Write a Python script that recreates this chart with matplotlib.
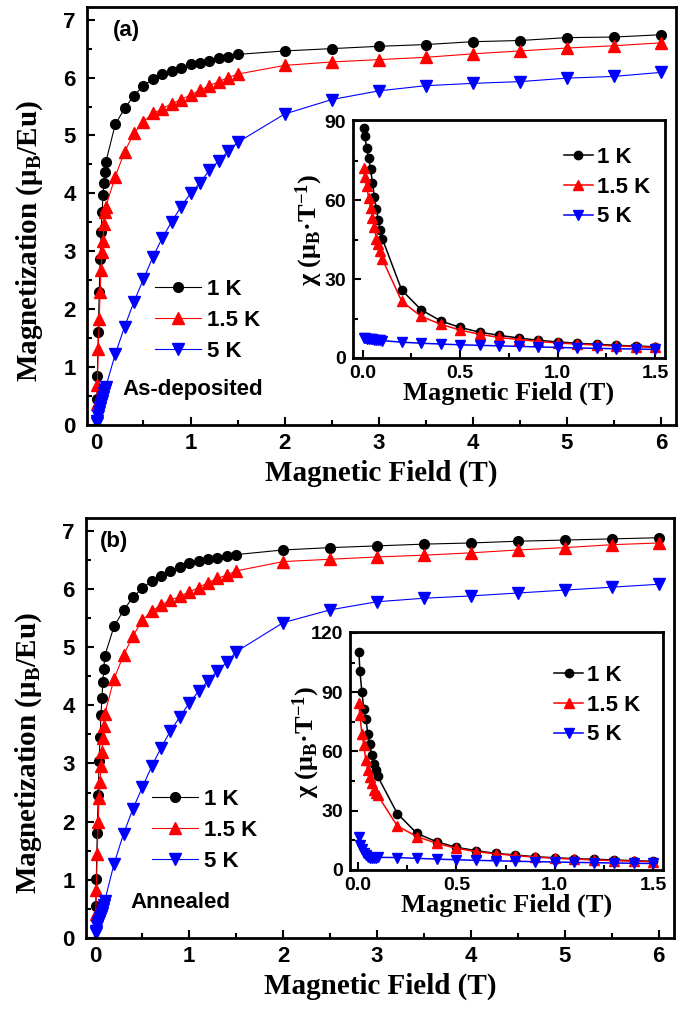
import matplotlib
matplotlib.use('Agg')
import matplotlib.pyplot as plt
from matplotlib.ticker import MultipleLocator
from matplotlib import font_manager

# field points (T)
field = [0.005, 0.01, 0.02, 0.03, 0.04, 0.05, 0.06, 0.07, 0.08, 0.09, 0.1,
         0.2, 0.3, 0.4, 0.5, 0.6, 0.7, 0.8, 0.9, 1.0, 1.1, 1.2, 1.3, 1.4, 1.5,
         2.0, 2.5, 3.0, 3.5, 4.0, 4.5, 5.0, 5.5, 6.0]
labels = ['1 K', '1.5 K', '5 K']

# (a) as-deposited, magnetization (muB/Eu)
Ma_1K = [0.44, 0.84, 1.60, 2.29, 2.87, 3.34, 3.67, 3.97, 4.18, 4.37, 4.54,
         5.19, 5.47, 5.69, 5.86, 5.97, 6.06, 6.11, 6.17, 6.23, 6.26, 6.29, 6.33, 6.36, 6.40,
         6.46, 6.50, 6.54, 6.57, 6.62, 6.64, 6.69, 6.70, 6.74]
Ma_15K = [0.36, 0.69, 1.31, 1.83, 2.29, 2.67, 2.98, 3.17, 3.47, 3.67, 3.77,
          4.29, 4.72, 5.04, 5.24, 5.38, 5.46, 5.55, 5.62, 5.70, 5.78, 5.86, 5.93, 6.00, 6.06,
          6.21, 6.27, 6.31, 6.35, 6.41, 6.46, 6.51, 6.55, 6.60]
Ma_5K = [0.038, 0.075, 0.15, 0.22, 0.29, 0.36, 0.42, 0.48, 0.55, 0.61, 0.66,
         1.22, 1.70, 2.13, 2.52, 2.90, 3.23, 3.51, 3.77, 4.00, 4.18, 4.40, 4.56, 4.73, 4.88,
         5.37, 5.62, 5.77, 5.86, 5.90, 5.93, 5.99, 6.02, 6.09]

# (a) inset, susceptibility up to 1.5 T
chia_1K = [87.5, 84.4, 80.0, 76.2, 71.8, 66.7, 61.1, 56.7, 52.3, 48.5, 45.4,
           25.8, 18.3, 14.1, 11.6, 9.8, 8.6, 7.6, 6.7, 6.1, 5.6, 5.2, 4.8, 4.5, 4.3]
chia_15K = [72.4, 68.8, 65.4, 61.0, 57.2, 53.4, 49.7, 45.3, 43.4, 40.8, 37.7,
            21.5, 15.8, 12.8, 10.6, 9.0, 7.8, 7.0, 6.3, 5.7, 5.3, 4.9, 4.6, 4.3, 4.0]
chia_5K = [7.6, 7.5, 7.4, 7.3, 7.2, 7.1, 7.0, 6.9, 6.8, 6.7, 6.6,
           6.0, 5.6, 5.3, 5.0, 4.8, 4.6, 4.4, 4.2, 4.0, 3.8, 3.65, 3.5, 3.4, 3.25]

# (b) annealed
Mb_1K = [0.55, 1.01, 1.80, 2.46, 3.05, 3.45, 3.84, 4.12, 4.40, 4.62, 4.85,
         5.36, 5.63, 5.86, 6.01, 6.14, 6.23, 6.31, 6.37, 6.44, 6.48, 6.51, 6.54, 6.57, 6.59,
         6.67, 6.71, 6.74, 6.77, 6.79, 6.82, 6.84, 6.86, 6.88]
Mb_15K = [0.42, 0.82, 1.45, 2.00, 2.40, 2.68, 2.95, 3.20, 3.43, 3.65, 3.85,
          4.46, 4.86, 5.19, 5.46, 5.62, 5.72, 5.81, 5.87, 5.95, 6.02, 6.11, 6.18, 6.24, 6.31,
          6.47, 6.51, 6.55, 6.58, 6.62, 6.67, 6.71, 6.76, 6.79]
Mb_5K = [0.085, 0.126, 0.21, 0.26, 0.30, 0.34, 0.38, 0.43, 0.50, 0.57, 0.64,
         1.28, 1.79, 2.22, 2.59, 2.95, 3.27, 3.56, 3.80, 4.04, 4.24, 4.42, 4.59, 4.74, 4.92,
         5.42, 5.64, 5.78, 5.84, 5.88, 5.93, 5.98, 6.03, 6.08]

chib_1K = [110.4, 101.0, 90.2, 81.7, 76.7, 69.1, 64.0, 58.1, 53.9, 50.5, 47.5,
           28.6, 18.5, 14.3, 11.5, 9.8, 8.4, 7.6, 6.7, 6.2, 5.7, 5.4, 5.1, 4.7, 4.4]
chib_15K = [84.3, 78.4, 69.1, 63.2, 55.6, 50.6, 47.2, 43.8, 40.4, 38.8, 37.9,
            22.3, 16.9, 13.5, 11.0, 9.3, 8.2, 7.3, 6.5, 5.95, 5.5, 5.1, 4.75, 4.45, 4.2]
chib_5K = [16.9, 12.6, 10.4, 8.8, 7.6, 6.7, 6.3, 6.2, 6.2, 6.3, 6.4,
           6.3, 5.9, 5.5, 5.2, 4.9, 4.65, 4.45, 4.2, 4.05, 3.85, 3.7, 3.55, 3.4, 3.3]

names = {f.name for f in font_manager.fontManager.ttflist}
tickfont = 'Liberation Sans Narrow' if 'Liberation Sans Narrow' in names else 'Liberation Sans'

plt.rcParams['font.family'] = 'Liberation Sans'
plt.rcParams['font.weight'] = 'bold'
plt.rcParams['mathtext.fontset'] = 'custom'
plt.rcParams['mathtext.rm'] = 'Liberation Serif:bold'
plt.rcParams['mathtext.it'] = 'Liberation Serif:bold'
plt.rcParams['mathtext.bf'] = 'Liberation Serif:bold'

colors = ['black', 'red', 'blue']
markers = ['o', '^', 'v']
serif = {'family': 'Liberation Serif', 'weight': 'bold'}

fig = plt.figure(figsize=(6.85, 10.21), dpi=100)


def style(ax, size, pad):
    for s in ax.spines.values():
        s.set_linewidth(2)
    ax.tick_params(which='both', direction='in', top=False, right=False,
                   width=1.5, labelsize=size, pad=pad)
    ax.tick_params(which='major', length=6)
    ax.tick_params(which='minor', length=3.5)
    for t in ax.get_xticklabels() + ax.get_yticklabels():
        t.set_fontfamily(tickfont)
        t.set_fontweight('bold')


def main_panel(rect, M, tag, note, leg_xy, tag_x):
    ax = fig.add_axes(rect)
    for y, c, m, lab in zip(M, colors, markers, labels):
        ms = 7 if m == 'o' else 8
        ax.plot(field, y, color=c, marker=m, ms=ms, lw=0.8, label=lab)
    ax.set_xlim(-0.1, 6.16)
    ax.set_ylim(0, 7.22)
    ax.xaxis.set_major_locator(MultipleLocator(1))
    ax.xaxis.set_minor_locator(MultipleLocator(0.5))
    ax.yaxis.set_major_locator(MultipleLocator(1))
    ax.yaxis.set_minor_locator(MultipleLocator(0.5))
    style(ax, 16, 8)
    ax.tick_params(axis='x', pad=6)
    ax.legend(loc='center left', bbox_to_anchor=leg_xy, frameon=False,
              prop={'family': 'Liberation Sans', 'weight': 'bold', 'size': 16},
              handlelength=2.1, handletextpad=0.25, borderpad=0,
              borderaxespad=0, labelspacing=0.45)
    ax.text(tag_x, 0.943, tag, transform=ax.transAxes, fontsize=16,
            fontweight='bold', va='center', ha='left')
    ax.text(note[1], 0.084, note[0], transform=ax.transAxes, fontsize=16,
            fontweight='bold', va='center', ha='left')
    ax.text(0.5, -0.115, 'Magnetic Field (T)', transform=ax.transAxes,
            ha='center', va='center', fontsize=21, **serif)
    ax.text(-0.097, 0.44, r'Magnetization (μ$_\mathregular{B}$/Eu)',
            transform=ax.transAxes, rotation=90, ha='center', va='center',
            fontsize=21, **serif)
    return ax


def inset(rect, chi, ymax, xmin, leg_xy):
    ax = fig.add_axes(rect)
    h = field[:25]
    for y, c, m, lab in zip(chi, colors, markers, labels):
        ms = 6 if m == 'o' else 7
        ax.plot(h, y, color=c, marker=m, ms=ms, lw=1.1, label=lab)
    ax.set_xlim(xmin, 1.55)
    ax.set_ylim(0, ymax)
    ax.xaxis.set_major_locator(MultipleLocator(0.5))
    ax.xaxis.set_minor_locator(MultipleLocator(0.25))
    ax.yaxis.set_major_locator(MultipleLocator(30))
    ax.yaxis.set_minor_locator(MultipleLocator(15))
    style(ax, 14, 5)
    ax.legend(loc='center left', bbox_to_anchor=leg_xy, frameon=False,
              prop={'family': 'Liberation Sans', 'weight': 'bold', 'size': 16},
              handlelength=1.3, handletextpad=0.2, borderpad=0,
              borderaxespad=0, labelspacing=0.4)
    ax.text(0.5, -0.15, 'Magnetic Field (T)', transform=ax.transAxes,
            ha='center', va='center', fontsize=19, **serif)
    ax.text(-0.14, 0.54, r'χ (μ$_\mathregular{B}$·T$^\mathregular{-1}$)',
            transform=ax.transAxes, rotation=90, ha='center', va='center',
            fontsize=19, **serif)
    return ax


main_panel([0.127, 0.5838, 0.860, 0.4094], [Ma_1K, Ma_15K, Ma_5K], '(a)',
           ('As-deposited', 0.061), (0.115, 0.251), 0.044)
inset([0.5153, 0.6494, 0.4555, 0.2331], [chia_1K, chia_15K, chia_5K], 90.5,
      -0.05, (0.676, 0.718))

main_panel([0.1255, 0.0813, 0.858, 0.4114], [Mb_1K, Mb_15K, Mb_5K], '(b)',
           ('Annealed', 0.075), (0.112, 0.257), 0.024)
inset([0.511, 0.1479, 0.457, 0.2331], [chib_1K, chib_15K, chib_5K], 120.5,
      -0.04, (0.652, 0.693))

fig.savefig('out.png', dpi=100)
